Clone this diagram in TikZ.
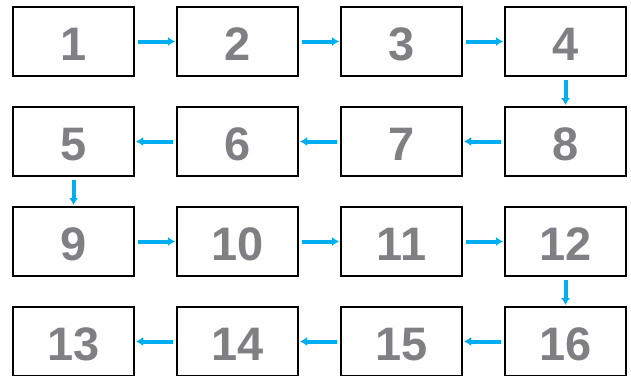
\documentclass[tikz,border=0pt]{standalone}
\usepackage{fontspec}
\setmainfont{Liberation Sans}
\usepackage{xcolor}
\usetikzlibrary{arrows.meta,positioning}
\definecolor{digitgray}{RGB}{128,128,132}
\definecolor{flowblue}{RGB}{0,174,239}

\begin{document}
\begin{tikzpicture}[
    x=1pt, y=-1pt,
    >={Latex[length=7pt,width=9pt]},
    node distance=31pt and 43pt,
    panel/.style={draw, line width=1.4pt, minimum width=121pt, minimum height=69pt, outer sep=0pt, inner sep=0pt,
        text=digitgray, font=\fontsize{47}{47}\selectfont\bfseries, text height=38pt, text depth=0pt},
    flow/.style={->, draw=flowblue, line width=4pt, shorten <=4pt, shorten >=2pt}
]
\useasboundingbox (0,0) rectangle (631,375);

\node[panel] (one) at (73.5,41.5) {1};
\node[panel, right=of one] (two) {2};
\node[panel, right=of two] (three) {3};
\node[panel, right=of three] (four) {4};

\node[panel, below=of one] (five) {5};
\node[panel, right=of five] (six) {6};
\node[panel, right=of six] (seven) {7};
\node[panel, right=of seven] (eight) {8};

\node[panel, below=of five] (nine) {9};
\node[panel, right=of nine] (ten) {10};
\node[panel, right=of ten] (eleven) {11};
\node[panel, right=of eleven] (twelve) {12};

\node[panel, below=of nine] (thirteen) {13};
\node[panel, right=of thirteen] (fourteen) {14};
\node[panel, right=of fourteen] (fifteen) {15};
\node[panel, right=of fifteen] (sixteen) {16};

\draw[flow] (one) -- (two);
\draw[flow] (two) -- (three);
\draw[flow] (three) -- (four);
\draw[flow] (four) -- (eight);
\draw[flow] (eight) -- (seven);
\draw[flow] (seven) -- (six);
\draw[flow] (six) -- (five);
\draw[flow] (five) -- (nine);
\draw[flow] (nine) -- (ten);
\draw[flow] (ten) -- (eleven);
\draw[flow] (eleven) -- (twelve);
\draw[flow] (twelve) -- (sixteen);
\draw[flow] (sixteen) -- (fifteen);
\draw[flow] (fifteen) -- (fourteen);
\draw[flow] (fourteen) -- (thirteen);

\end{tikzpicture}
\end{document}
